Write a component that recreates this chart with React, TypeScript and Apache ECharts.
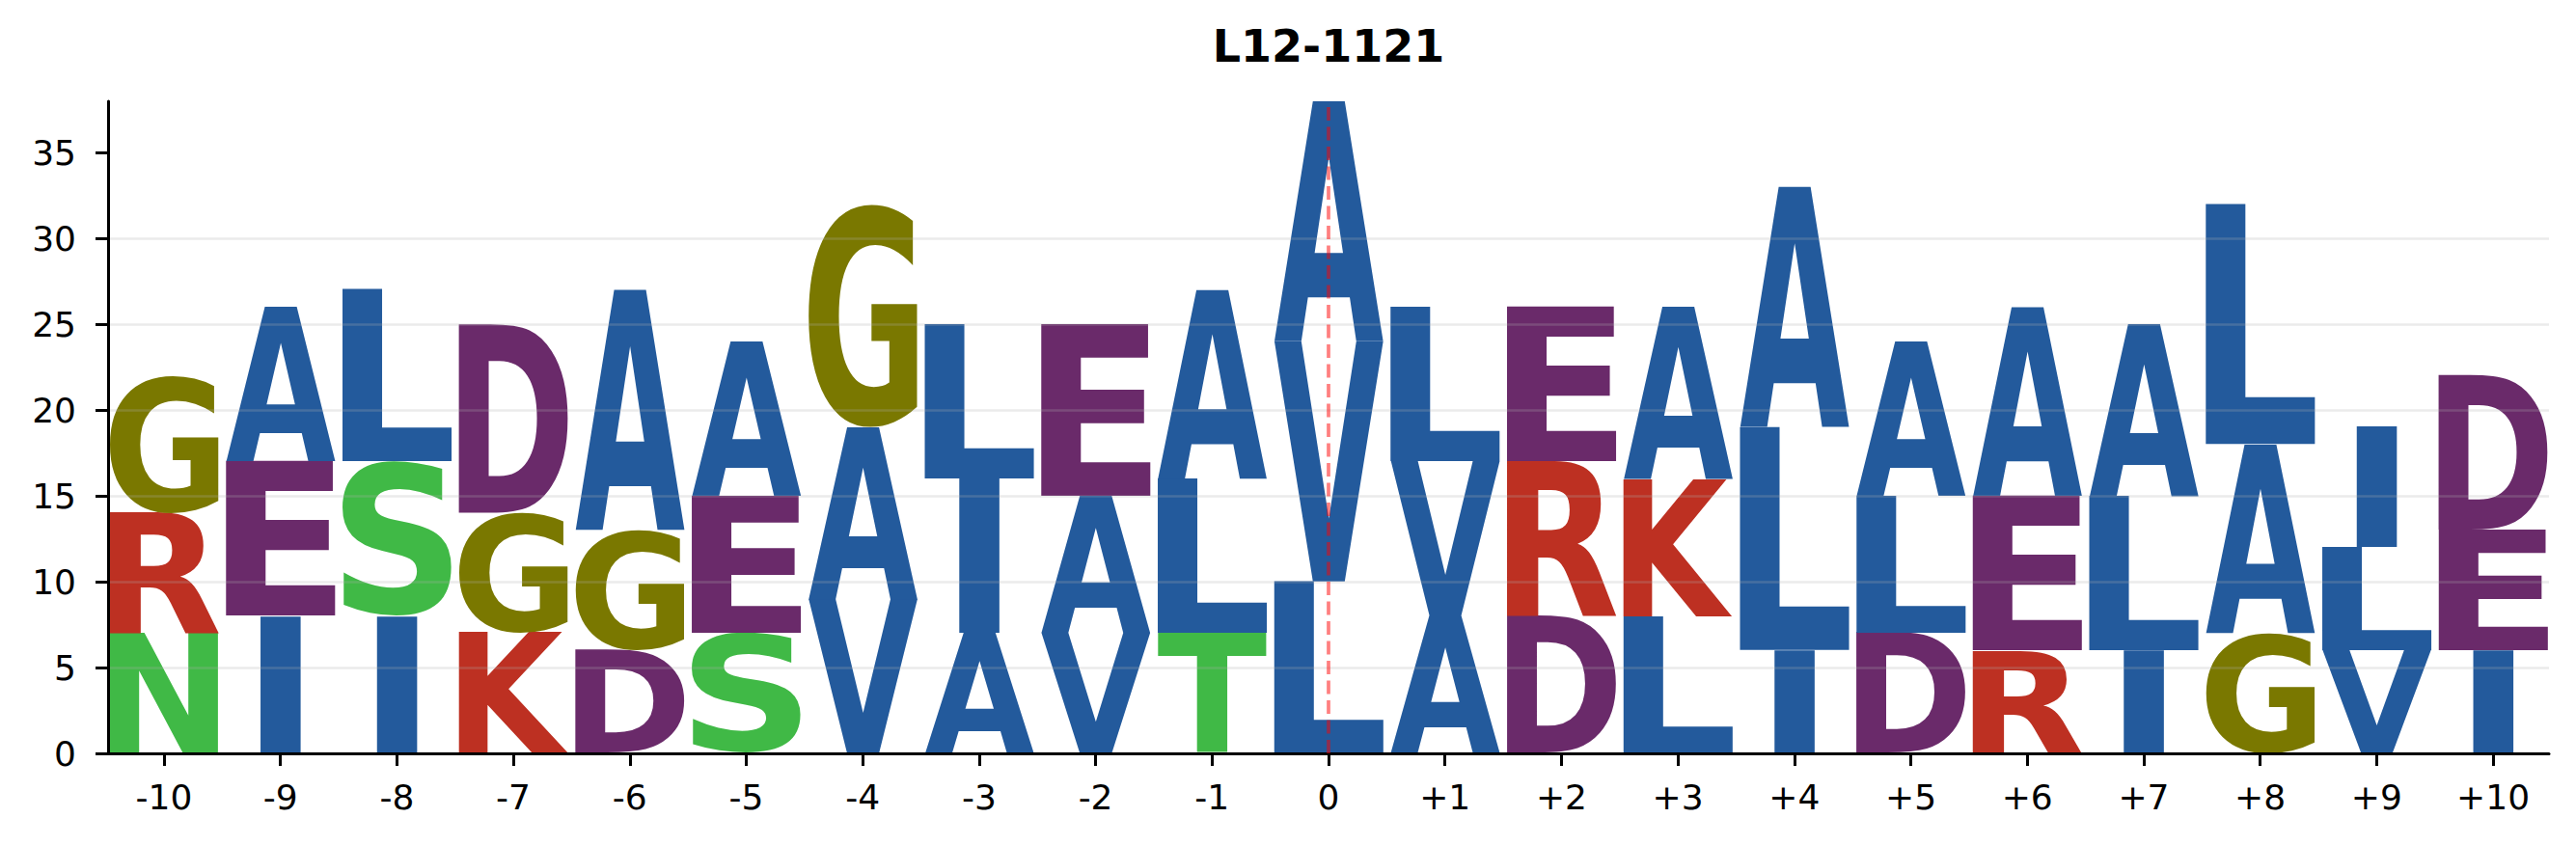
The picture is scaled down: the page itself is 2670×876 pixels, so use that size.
import React, { useEffect, useRef } from 'react';
import * as echarts from 'echarts';

// ---------------- data ----------------
const TITLE = 'L12-1121';
const POSITIONS = [-10, -9, -8, -7, -6, -5, -4, -3, -2, -1, 0, 1, 2, 3, 4, 5, 6, 7, 8, 9, 10];
const POSITION_LABELS = ['-10', '-9', '-8', '-7', '-6', '-5', '-4', '-3', '-2', '-1', '0', '+1', '+2', '+3', '+4', '+5', '+6', '+7', '+8', '+9', '+10'];
// letters of each stack, bottom to top
const STACK_LETTERS = ['NRG', 'IEA', 'ISL', 'KGD', 'DGA', 'SEA', 'VAG', 'AIL', 'VAE', 'TLA', 'LVA', 'AVL', 'DRE', 'LKA', 'ILA', 'DLA', 'REA', 'ILA', 'GAL', 'VLI', 'IED'];
// heights of each letter, bottom to top
const STACK_HEIGHTS = [
  [7, 7, 8], [8, 9, 9], [8, 9, 10], [7, 7, 11], [6, 7, 14], [7, 8, 9], [9, 10, 13],
  [7, 9, 9], [7, 8, 10], [7, 9, 11], [10, 14, 14], [8, 9, 9], [8, 9, 9], [8, 8, 10],
  [6, 13, 14], [7, 8, 9], [6, 9, 11], [6, 9, 10], [7, 11, 14], [6, 6, 7], [6, 7, 9],
];
const Y_TICKS = [0, 5, 10, 15, 20, 25, 30, 35];
const Y_MAX = 38;
const CENTER_POSITION = 0;

// ---------------- styles ----------------
const BLUE = '#235A9C';
const GREEN = '#40B946';
const PURPLE = '#6A2A6A';
const RED = '#BD3022';
const OLIVE = '#7A7800';
const LETTER_COLORS: Record<string, string> = {
  A: BLUE, V: BLUE, L: BLUE, I: BLUE,
  N: GREEN, S: GREEN, T: GREEN,
  D: PURPLE, E: PURPLE,
  R: RED, K: RED,
  G: OLIVE,
};
const LETTER_WIDTH = 0.94;
const GLYPH_WIDTH_FRACTION: Record<string, number> = { I: 0.37 };
const GLYPH_FONT_SIZE = 200;
const GLYPH_FAMILY = 'DejaVu Sans';
const GLYPH_FONT = `bold ${GLYPH_FONT_SIZE}px "${GLYPH_FAMILY}"`;

type Glyph = { left: number; right: number; top: number; bottom: number };

function measureGlyphs(chars: string[]): Record<string, Glyph> {
  const canvas = document.createElement('canvas');
  const ctx = canvas.getContext('2d') as CanvasRenderingContext2D;
  ctx.font = GLYPH_FONT;
  ctx.textAlign = 'left';
  ctx.textBaseline = 'alphabetic';
  // offset of the alphabetic baseline below the SVG "central" baseline
  let baselineOffset = 0.346 * GLYPH_FONT_SIZE;
  try {
    const ns = 'http://www.w3.org/2000/svg';
    const svg = document.createElementNS(ns, 'svg');
    svg.setAttribute('width', '1000');
    svg.setAttribute('height', '1000');
    (svg as any).style.position = 'absolute';
    (svg as any).style.left = '0';
    (svg as any).style.top = '0';
    (svg as any).style.visibility = 'hidden';
    const t = document.createElementNS(ns, 'text');
    t.setAttribute('x', '0');
    t.setAttribute('y', '500');
    t.setAttribute('dominant-baseline', 'central');
    t.setAttribute('font-family', GLYPH_FAMILY);
    t.setAttribute('font-weight', 'bold');
    t.setAttribute('font-size', String(GLYPH_FONT_SIZE));
    t.textContent = 'H';
    svg.appendChild(t);
    document.body.appendChild(svg);
    const bb = (t as any).getBBox();
    document.body.removeChild(svg);
    const mh = ctx.measureText('H');
    if (bb && bb.height > 1 && mh.fontBoundingBoxAscent) {
      baselineOffset = bb.y - 500 + mh.fontBoundingBoxAscent;
    }
  } catch (e) {
    // keep default
  }
  const out: Record<string, Glyph> = {};
  chars.forEach((ch) => {
    const m = ctx.measureText(ch);
    out[ch] = {
      left: -m.actualBoundingBoxLeft,
      right: m.actualBoundingBoxRight,
      top: baselineOffset - m.actualBoundingBoxAscent,
      bottom: baselineOffset + m.actualBoundingBoxDescent,
    };
  });
  return out;
}

export default function App() {
  const ref = useRef<HTMLDivElement>(null);
  useEffect(() => {
    document.body.style.margin = '0';
    const el = ref.current;
    if (!el) return;
    const chars = Array.from(new Set(STACK_LETTERS.join('').split('')));
    const glyphs = measureGlyphs(chars);

    const data: number[][] = [];
    POSITIONS.forEach((pos, pi) => {
      let base = 0;
      STACK_HEIGHTS[pi].forEach((h, li) => {
        data.push([pos, base, base + h, pi, li]);
        base += h;
      });
    });

    const axisLineStyle = { color: '#000', width: 3 };
    const labelStyle = { fontFamily: 'DejaVu Sans', fontSize: 36, color: '#000' };

    const chart = echarts.init(el, null, { renderer: 'svg' });
    chart.setOption({
      animation: false,
      backgroundColor: '#ffffff',
      title: {
        text: TITLE,
        left: 1377,
        top: 25,
        textAlign: 'center',
        padding: 0,
        textStyle: { fontFamily: 'DejaVu Sans', fontWeight: 'bold', fontSize: 46, color: '#000' },
      },
      grid: { left: 112, right: 28, top: 105, bottom: 95, containLabel: false },
      xAxis: {
        type: 'value',
        min: -10.48,
        max: 10.48,
        z: 3,
        axisLine: { show: true, onZero: false, lineStyle: axisLineStyle },
        axisTick: { show: true, customValues: POSITIONS, length: 13, lineStyle: axisLineStyle },
        axisLabel: {
          show: true,
          customValues: POSITIONS,
          margin: 27,
          formatter: (v: number) => {
            const i = POSITIONS.indexOf(Math.round(v));
            return i >= 0 ? POSITION_LABELS[i] : '';
          },
          ...labelStyle,
        },
        splitLine: { show: false },
      },
      yAxis: {
        type: 'value',
        min: 0,
        max: Y_MAX,
        z: 3,
        position: 'left',
        axisLine: { show: true, onZero: false, lineStyle: axisLineStyle },
        axisTick: { show: true, customValues: Y_TICKS, length: 13, lineStyle: axisLineStyle },
        axisLabel: { show: true, customValues: Y_TICKS, margin: 33, ...labelStyle },
        splitLine: {
          show: true,
          showMinLine: false,
          showMaxLine: false,
          lineStyle: { color: 'rgba(175,175,175,0.25)', width: 2.7 },
        },
      },
      series: [
        {
          type: 'custom',
          z: 2,
          clip: false,
          encode: { x: 0, y: [1, 2] },
          data,
          renderItem: (params: any, api: any) => {
            const pos = api.value(0) as number;
            const y0 = api.value(1) as number;
            const y1 = api.value(2) as number;
            const pi = api.value(3) as number;
            const li = api.value(4) as number;
            const ch = STACK_LETTERS[pi][li];
            const g = glyphs[ch];
            const frac = GLYPH_WIDTH_FRACTION[ch] ?? 1;
            const half = (LETTER_WIDTH / 2) * frac;
            const tl = api.coord([pos - half, y1]);
            const br = api.coord([pos + half, y0]);
            const w = br[0] - tl[0];
            const h = br[1] - tl[1];
            const sx = w / (g.right - g.left);
            const sy = h / (g.bottom - g.top);
            return {
              type: 'text',
              x: tl[0] - g.left * sx,
              y: tl[1] - g.top * sy,
              scaleX: sx,
              scaleY: sy,
              style: {
                text: ch,
                x: 0,
                y: 0,
                font: GLYPH_FONT,
                fill: LETTER_COLORS[ch],
                align: 'left',
                verticalAlign: 'middle',
              },
            };
          },
          markLine: {
            silent: true,
            z: 5,
            symbol: ['none', 'none'],
            label: { show: false },
            lineStyle: { color: 'rgba(255,0,0,0.5)', width: 3.7, type: [14, 6.5] },
            data: [{ xAxis: CENTER_POSITION }],
          },
        },
      ],
    });
    return () => chart.dispose();
  }, []);
  return <div ref={ref} style={{ width: 2670, height: 876 }} />;
}
